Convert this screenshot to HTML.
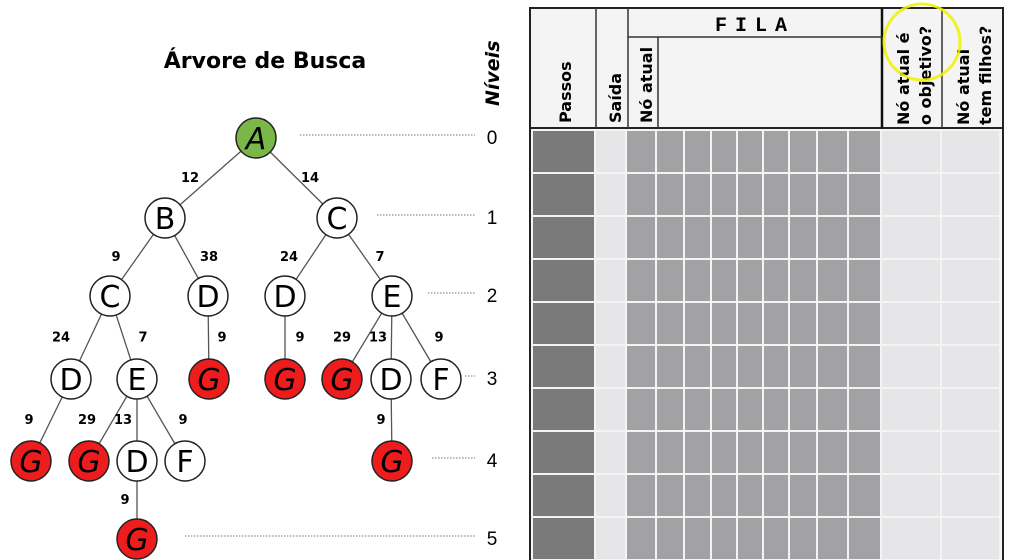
<!DOCTYPE html>
<html><head><meta charset="utf-8"><style>
body{margin:0;background:#fff}
svg{display:block;font-family:"DejaVu Sans","Liberation Sans",sans-serif}
</style></head><body>
<svg width="1011" height="560" viewBox="0 0 1011 560">
<text x="265" y="68" font-size="22" font-weight="bold" text-anchor="middle">Árvore de Busca</text>
<text transform="translate(499,106) rotate(-90)" font-size="19" font-weight="bold" font-style="italic">Níveis</text>
<g id="levels"></g>
<g id="edges"></g>
<g id="wts"></g>
<g id="nodes"></g>
<g id="table"></g>
<circle cx="922" cy="42" r="38" fill="none" stroke="#f0f000" stroke-width="3" opacity="0.85"/>
</svg>
<script>
const NS="http://www.w3.org/2000/svg";
function mk(t,a,p){const e=document.createElementNS(NS,t);for(const k in a)e.setAttribute(k,a[k]);p.appendChild(e);return e;}
const nodeLabels=["A","B","C","C","D","D","E","D","E","G","G","G","D","F","G","G","D","F","G","G"];
const nodeX=[256,165,337,110,208,285,392,71,137,209,285,342,391,441,31,89,137,185,392,137];
const nodeLevel=[0,1,1,2,2,2,2,3,3,3,3,3,3,3,4,4,4,4,4,5];
const nodeColor=["g","w","w","w","w","w","w","w","w","r","r","r","w","w","r","r","w","w","r","r"];
const parent=[-1,0,0,1,1,2,2,3,3,4,5,6,6,6,7,8,8,8,12,16];
const weights=["","12","14","9","38","24","7","24","7","9","9","29","13","9","9","29","13","9","9","9"];
const wX=[0,190,310,116,209,289,380,61,143,222,300,342,378,439,29,87,123,183,381,125];
const levelY=[138,218,296,379,461,539];
const levelLineStart=[300,377,428,465,432,185];
const R=20;
const Y=l=>levelY[l];
const lv=document.getElementById('levels');
levelY.forEach((y,i)=>{
 const l=mk('line',{x1:levelLineStart[i],x2:475,y1:y-3,y2:y-3,stroke:'#8890a8','stroke-width':1.2,'stroke-dasharray':'1.5 1.5'},lv);
 
 
 const t=mk('text',{x:492,y:y+6,'font-size':19,'text-anchor':'middle','font-family':'Liberation Sans'},lv);t.textContent=i;
 
 
});
const ed=document.getElementById('edges'),wt=document.getElementById('wts'),nd=document.getElementById('nodes');
nodeX.forEach((x,i)=>{
 const p=parent[i];if(p<0)return;
 const l=mk('line',{x1:nodeX[p],y1:Y(nodeLevel[p]),x2:x,y2:Y(nodeLevel[i]),stroke:'#555','stroke-width':1.3},ed);
 
 
 const wy=(Y(nodeLevel[p])+Y(nodeLevel[i]))/2+4;
 const t=mk('text',{x:wX[i],y:wy,'font-size':13,'font-weight':'bold','text-anchor':'middle'},wt);t.textContent=weights[i];
 
 
});
const fills={g:'#7ab648',w:'#fff',r:'#ee1c1c'};
nodeX.forEach((x,i)=>{
 const y=Y(nodeLevel[i]);
 const g=mk('g',{},nd);
 
 
 mk('circle',{cx:x,cy:y,r:R,fill:fills[nodeColor[i]],stroke:'#222','stroke-width':1.5},g);
 const t=mk('text',{x:x,y:y+11,'font-size':30,'text-anchor':'middle','font-style':nodeColor[i]=='w'?'normal':'italic'},g);t.textContent=nodeLabels[i];
});
const tb=document.getElementById('table');
const colX=[533,596,627,657,685,712,738,764,790,818,849,882,942,1001];
const colFill=['#7a7a7a','#e6e6e8','#a2a2a4','#a2a2a4','#a2a2a4','#a2a2a4','#a2a2a4','#a2a2a4','#a2a2a4','#a2a2a4','#a2a2a4','#e6e6e8','#e6e6e8'];
const rowCount=10,rowTop=131,rowH=43;
mk('rect',{x:530,y:8,width:473,height:560,fill:'#f4f4f4',stroke:'#222','stroke-width':2},tb);
for(let r=0;r<rowCount;r++)for(let c=0;c<colFill.length;c++){
 const e=mk('rect',{x:colX[c],y:rowTop+r*rowH,width:colX[c+1]-colX[c]-2,height:rowH-2,fill:colFill[c]},tb);
 
 
}
mk('line',{x1:530,x2:1003,y1:128,y2:128,stroke:'#222','stroke-width':2},tb);
[596,628].forEach(x=>mk('line',{x1:x,x2:x,y1:8,y2:128,stroke:'#333','stroke-width':1.5},tb));
mk('line',{x1:658,x2:658,y1:37,y2:128,stroke:'#333','stroke-width':1.5},tb);
mk('line',{x1:882,x2:882,y1:8,y2:128,stroke:'#111','stroke-width':2.5},tb);
mk('line',{x1:942,x2:942,y1:8,y2:128,stroke:'#333','stroke-width':1.5},tb);
mk('line',{x1:628,x2:882,y1:37,y2:37,stroke:'#333','stroke-width':1.5},tb);
const fila=mk('text',{x:755,y:31,'font-size':20,'font-weight':'bold','text-anchor':'middle','letter-spacing':'8','font-family':'Liberation Mono'},tb);fila.textContent='FILA';


const hdr=[["Passos",571,123],["Saída",621,123],["Nó atual",652,123],["Nó atual é",909,125],["o objetivo?",931,125],["Nó atual",969,125],["tem filhos?",991,125]];
hdr.forEach(h=>{const t=mk('text',{transform:`translate(${h[1]},${h[2]}) rotate(-90)`,'font-size':16,'font-weight':'bold'},tb);t.textContent=h[0];
 
 });
</script>
</body></html>
